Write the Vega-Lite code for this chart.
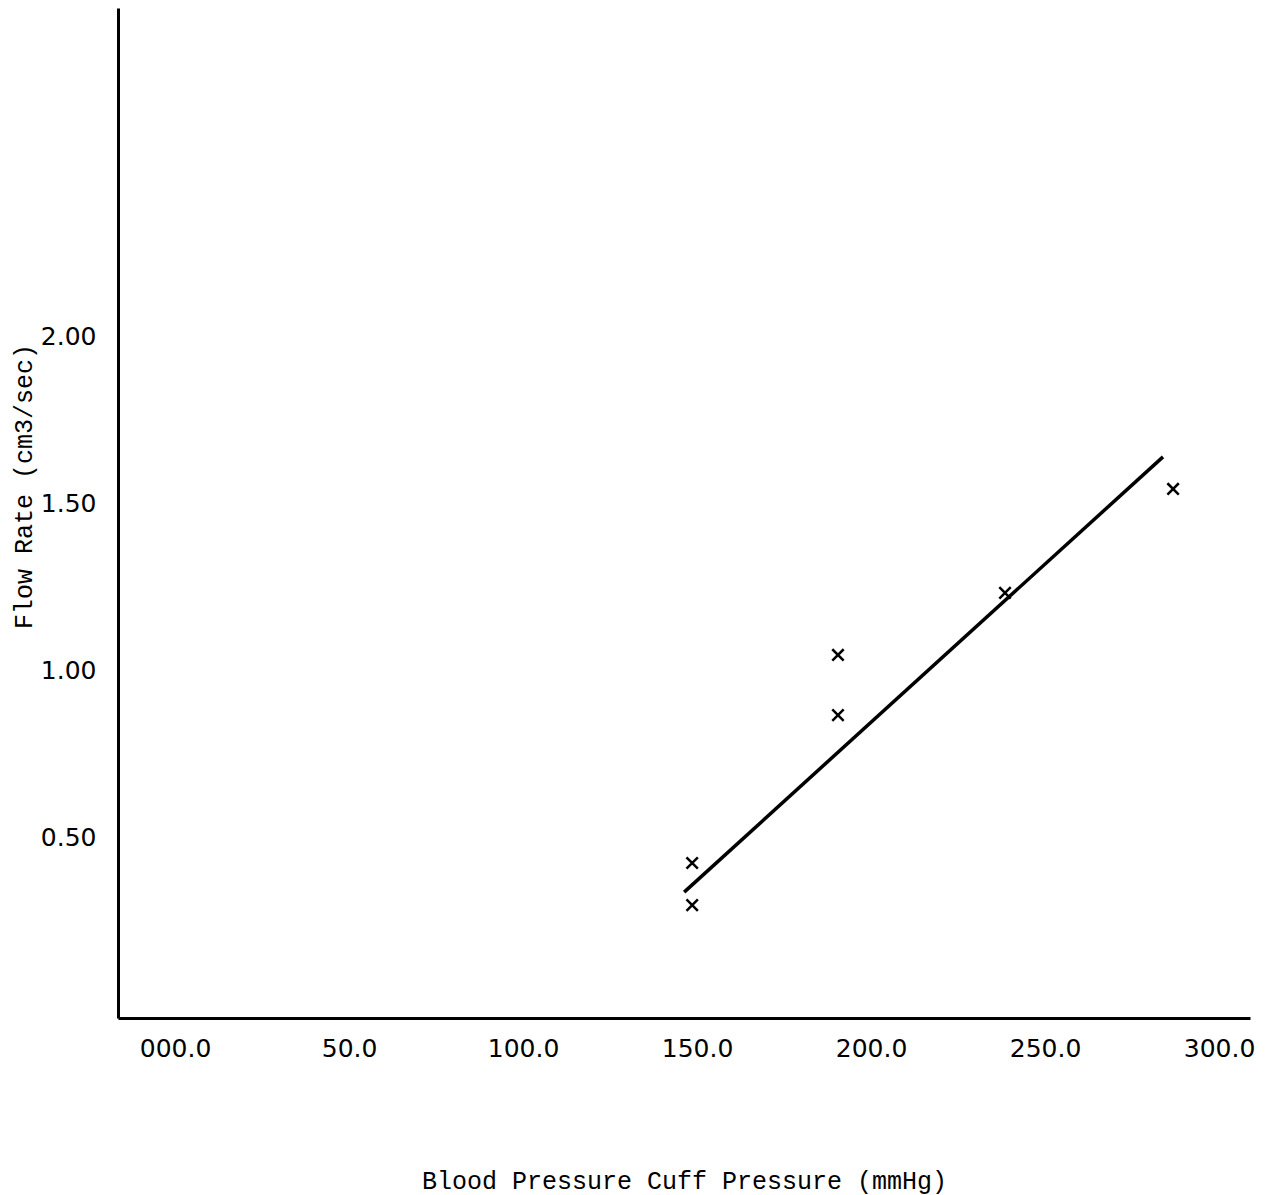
{
  "$schema": "https://vega.github.io/schema/vega-lite/v6.json",
  "width": 1132,
  "height": 1010,
  "autosize": "none",
  "padding": {"left": 118, "top": 8, "right": 18, "bottom": 177},
  "background": "white",
  "config": {"view": {"stroke": null}},
  "datasets": {
    "points": [
      {"pressure": 148.6, "flow": 0.425},
      {"pressure": 148.6, "flow": 0.299},
      {"pressure": 190.5, "flow": 1.048},
      {"pressure": 190.5, "flow": 0.868},
      {"pressure": 238.5, "flow": 1.234},
      {"pressure": 286.8, "flow": 1.545}
    ],
    "fit": [
      {"pressure": 146.3, "flow": 0.338},
      {"pressure": 283.9, "flow": 1.641}
    ]
  },
  "encoding": {
    "x": {
      "field": "pressure",
      "type": "quantitative",
      "scale": {"domain": [-16.4, 308.9], "nice": false, "zero": false},
      "axis": {
        "title": "Blood Pressure Cuff Pressure (mmHg)",
        "values": [0, 50, 100, 150, 200, 250, 300],
        "labelExpr": "datum.value == 0 ? '000.0' : format(datum.value, '.1f')",
        "grid": false,
        "ticks": false,
        "domainColor": "black",
        "domainWidth": 3,
        "labelFont": "DejaVu Sans",
        "labelFontSize": 25,
        "labelColor": "black",
        "labelPadding": 18,
        "labelFlush": false,
        "labelOverlap": false,
        "titleFont": "Liberation Mono",
        "titleFontSize": 25,
        "titleFontWeight": "normal",
        "titleColor": "black",
        "titleY": 170,
        "titleBaseline": "alphabetic"
      }
    },
    "y": {
      "field": "flow",
      "type": "quantitative",
      "scale": {"domain": [-0.039, 2.985], "nice": false, "zero": false},
      "axis": {
        "title": "Flow Rate (cm3/sec)",
        "values": [0.5, 1, 1.5, 2],
        "format": ".2f",
        "grid": false,
        "ticks": false,
        "domainColor": "black",
        "domainWidth": 3,
        "labelFont": "DejaVu Sans",
        "labelFontSize": 25,
        "labelColor": "black",
        "labelPadding": 22,
        "labelFlush": false,
        "titleFont": "Liberation Mono",
        "titleFontSize": 25,
        "titleFontWeight": "normal",
        "titleColor": "black",
        "titleX": -82,
        "titleY": 478,
        "titleBaseline": "bottom"
      }
    }
  },
  "layer": [
    {
      "data": {"name": "fit"},
      "mark": {"type": "line", "color": "black", "strokeWidth": 3.5}
    },
    {
      "data": {"name": "points"},
      "mark": {
        "type": "point",
        "shape": "M-1,-1L1,1M-1,1L1,-1",
        "filled": false,
        "size": 130,
        "stroke": "black",
        "strokeWidth": 2.5,
        "opacity": 1
      }
    }
  ]
}
